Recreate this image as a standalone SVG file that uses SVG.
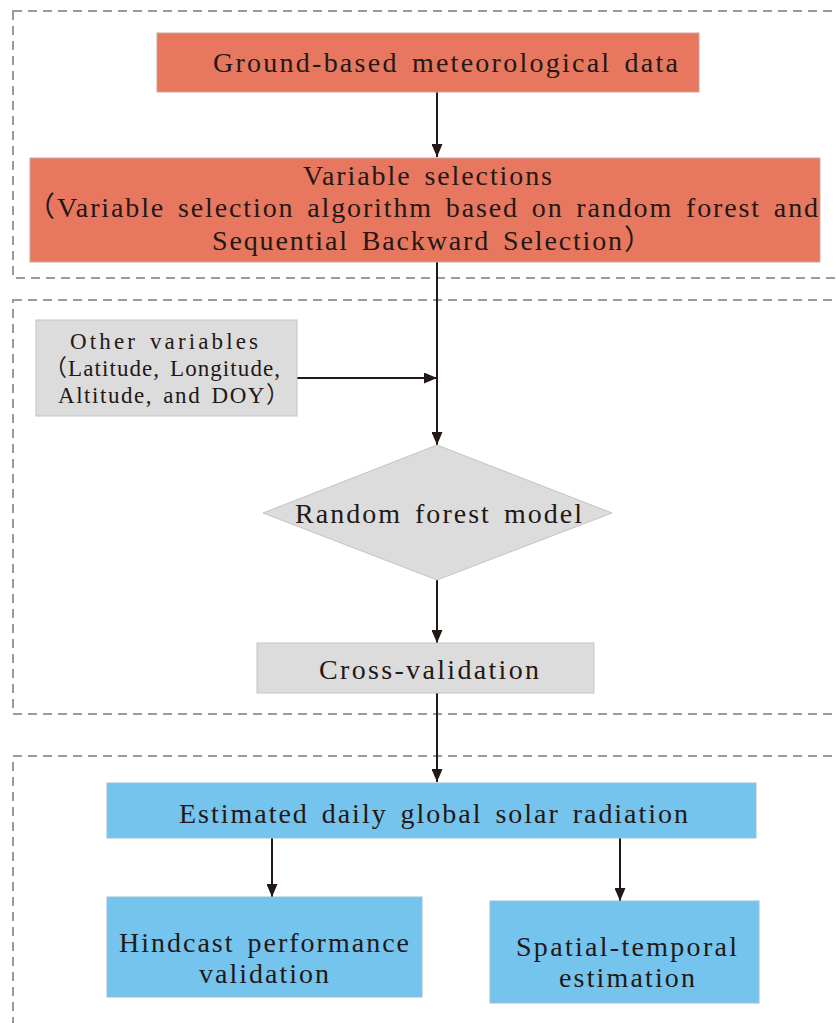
<svg xmlns="http://www.w3.org/2000/svg" width="836" height="1023" viewBox="0 0 836 1023">
<style>
.frame{fill:none;stroke:#9a9a9a;stroke-width:2;stroke-dasharray:9 6}
.red{fill:#E8775F;stroke:#c9a79d;stroke-width:1}
.gray{fill:#DCDCDC;stroke:#c4c4c4;stroke-width:1}
.blue{fill:#74C4EE;stroke:#9fbfd3;stroke-width:1}
.t{font-family:"Liberation Serif","Noto Sans CJK SC",serif;font-size:28px;fill:#231815;word-spacing:4px}
.s{font-size:23px;word-spacing:3px}
.conn{stroke:#231815;stroke-width:2;fill:none}
</style>
<defs>
<marker id="ah" markerUnits="userSpaceOnUse" markerWidth="14" markerHeight="11" refX="13" refY="5.5" orient="auto">
<path d="M0,0 L13,5.5 L0,11 z" fill="#231815"/>
</marker>
</defs>
<g id="frames">
<rect class="frame" x="13" y="11" width="840" height="267"/>
<rect class="frame" x="13" y="300" width="840" height="414"/>
<rect class="frame" x="13" y="756" width="840" height="300"/>
</g>
<g id="connectors">
<line class="conn" x1="437" y1="92" x2="437" y2="157" marker-end="url(#ah)"/>
<line class="conn" x1="437" y1="262" x2="437" y2="445" marker-end="url(#ah)"/>
<line class="conn" x1="297" y1="378" x2="437" y2="378" marker-end="url(#ah)"/>
<line class="conn" x1="437" y1="580" x2="437" y2="643" marker-end="url(#ah)"/>
<line class="conn" x1="437" y1="693" x2="437" y2="782" marker-end="url(#ah)"/>
<line class="conn" x1="272" y1="838" x2="272" y2="897" marker-end="url(#ah)"/>
<line class="conn" x1="620" y1="838" x2="620" y2="901" marker-end="url(#ah)"/>
</g>
<g id="ground">
<rect class="red" x="157" y="33" width="542" height="59"/>
<text class="t" x="213" y="72" textLength="465" lengthAdjust="spacing">Ground-based meteorological data</text>
</g>
<g id="varsel">
<rect class="red" x="30" y="158" width="790" height="104"/>
<text class="t" x="303" y="185" textLength="249" lengthAdjust="spacing">Variable selections</text>
<text class="t" x="27" y="217" textLength="791" lengthAdjust="spacing">（Variable selection algorithm based on random forest and</text>
<text class="t" x="212" y="250" textLength="440" lengthAdjust="spacing">Sequential Backward Selection）</text>
</g>
<g id="other">
<rect class="gray" x="36" y="320" width="261" height="96"/>
<text class="t s" x="70" y="349" textLength="188" lengthAdjust="spacing">Other variables</text>
<text class="t s" x="44" y="376" textLength="236" lengthAdjust="spacing">（Latitude, Longitude,</text>
<text class="t s" x="58" y="403" textLength="231" lengthAdjust="spacing">Altitude, and DOY）</text>
</g>
<g id="rf">
<polygon class="gray" points="437,445 612,513 437,580 263,513"/>
<text class="t" x="295" y="523" textLength="287" lengthAdjust="spacing">Random forest model</text>
</g>
<g id="cv">
<rect class="gray" x="257" y="643" width="337" height="50"/>
<text class="t" x="319" y="679" textLength="220" lengthAdjust="spacing">Cross-validation</text>
</g>
<g id="est">
<rect class="blue" x="107" y="783" width="649" height="55"/>
<text class="t" x="179" y="823" textLength="509" lengthAdjust="spacing">Estimated daily global solar radiation</text>
</g>
<g id="hind">
<rect class="blue" x="107" y="897" width="315" height="100"/>
<text class="t" x="119" y="952" textLength="290" lengthAdjust="spacing">Hindcast performance</text>
<text class="t" x="199" y="983" textLength="130" lengthAdjust="spacing">validation</text>
</g>
<g id="spatial">
<rect class="blue" x="490" y="901" width="269" height="102"/>
<text class="t" x="516" y="956" textLength="221" lengthAdjust="spacing">Spatial-temporal</text>
<text class="t" x="559" y="987" textLength="136" lengthAdjust="spacing">estimation</text>
</g>
</svg>
